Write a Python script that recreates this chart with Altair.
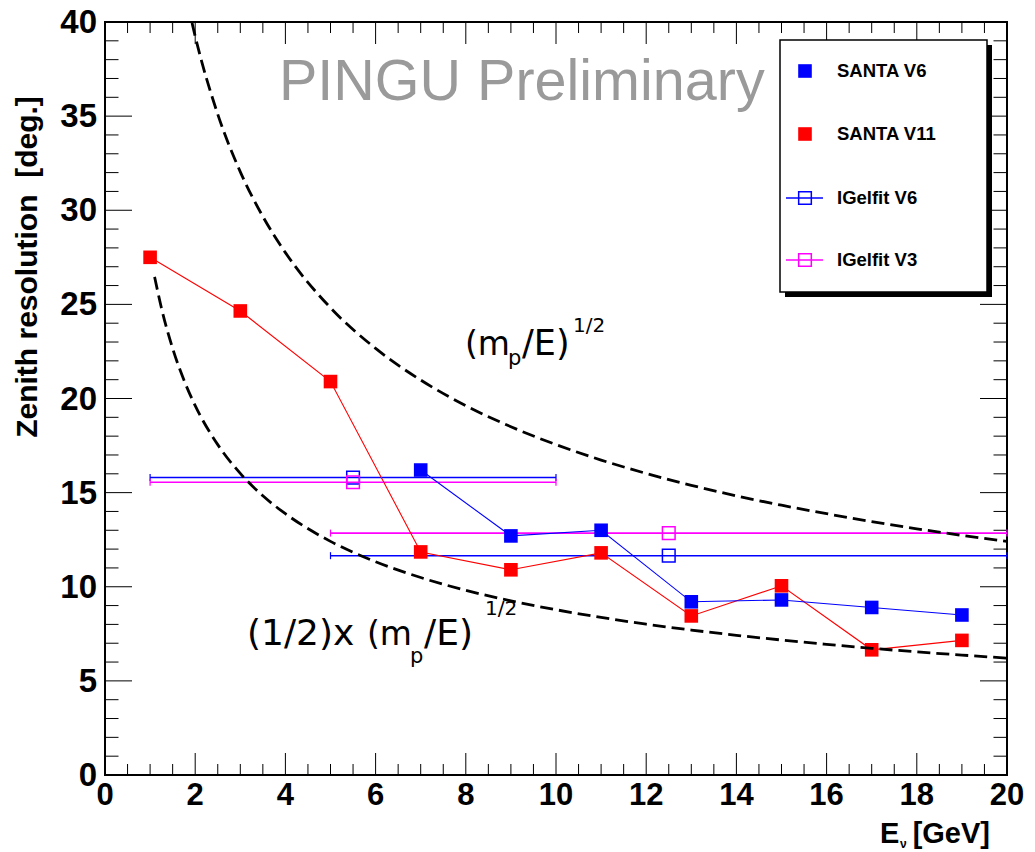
import altair as alt
import pandas as pd

# ---------------- data ----------------
energy_v6 = [7, 9, 11, 13, 15, 17, 19]
santa_v6 = [16.2, 12.7, 13.0, 9.2, 9.3, 8.9, 8.5]

energy_v11 = [1, 3, 5, 7, 9, 11, 13, 15, 17, 19]
santa_v11 = [27.5, 24.65, 20.9, 11.85, 10.9, 11.8, 8.45, 10.05, 6.65, 7.15]

igel_energy = [5.5, 12.5]
igel_lo = [1, 5]
igel_hi = [10, 20]
igelfit_v6 = [15.8, 11.65]
igelfit_v3 = [15.55, 12.85]

upper_e = [1.93, 2, 2.5, 3, 3.5, 4, 5, 6, 7, 8, 9, 10, 11, 12, 13, 14, 15, 16, 17, 18, 19, 20]
upper_res = [39.95, 39.24, 35.1, 32.04, 29.67, 27.75, 24.82, 22.66, 20.98, 19.62, 18.5, 17.55,
             16.73, 16.02, 15.39, 14.83, 14.33, 13.88, 13.46, 13.08, 12.73, 12.41]
lower_e = [1.1, 1.25, 1.5, 1.75, 2, 2.5, 3, 3.5, 4, 5, 6, 7, 8, 9, 10, 11, 12, 13, 14, 15, 16, 17, 18, 19, 20]
lower_res = [26.46, 24.82, 22.66, 20.98, 19.62, 17.55, 16.02, 14.83, 13.88, 12.41, 11.33, 10.49,
             9.81, 9.25, 8.78, 8.37, 8.01, 7.70, 7.42, 7.17, 6.94, 6.73, 6.54, 6.37, 6.21]

x_labels = [0, 2, 4, 6, 8, 10, 12, 14, 16, 18, 20]
y_labels = [0, 5, 10, 15, 20, 25, 30, 35, 40]
x_minor = [v / 2 for v in range(0, 41) if v % 4 != 0]
y_minor = [v for v in range(0, 41) if v % 5 != 0]

legend_labels = ["SANTA V6", "SANTA V11", "IGelfit V6", "IGelfit V3"]

# ---------------- layout ----------------
W, H = 902, 753
TOP = 3  # shift of overlay positions relative to earlier layout
SANS = "Liberation Sans, Arial, sans-serif"
ANNO = "DejaVu Sans, sans-serif"

xs = alt.Scale(domain=[0, 20], nice=False, zero=False)
ys = alt.Scale(domain=[0, 40], nice=False, zero=False)

dummy = pd.DataFrame({"k": [0]})

df_v6 = pd.DataFrame({"E": energy_v6, "R": santa_v6})
df_v11 = pd.DataFrame({"E": energy_v11, "R": santa_v11})
df_ig6 = pd.DataFrame({"E": igel_energy, "lo": igel_lo, "hi": igel_hi, "R": igelfit_v6})
df_ig3 = pd.DataFrame({"E": igel_energy, "lo": igel_lo, "hi": igel_hi, "R": igelfit_v3})
df_up = pd.DataFrame({"E": upper_e, "R": upper_res})
df_lo = pd.DataFrame({"E": lower_e, "R": lower_res})
df_xmaj = pd.DataFrame({"v": x_labels, "t": [str(v) for v in x_labels]})
df_xmin = pd.DataFrame({"v": x_minor})
df_ymaj = pd.DataFrame({"v": y_labels, "t": [str(v) for v in y_labels]})
df_ymin = pd.DataFrame({"v": y_minor})

X = lambda f: alt.X(f, type="quantitative", scale=xs, axis=None)
Y = lambda f: alt.Y(f, type="quantitative", scale=ys, axis=None)

# tick labels
label_layers = [
    alt.Chart(df_xmaj).mark_text(font=SANS, fontSize=31, fontWeight="bold", color="black",
                                 align="center", baseline="top").encode(
        x=X("v"), y=alt.value(H + 6), text="t:N"),
    alt.Chart(df_ymaj).mark_text(font=SANS, fontSize=33, fontWeight="bold", color="black",
                                 align="right", baseline="middle", dy=1).encode(
        y=Y("v"), x=alt.value(-8), text="t:N"),
]

tick_layers = []
for df, ln in [(df_xmaj, 22), (df_xmin, 11)]:
    tick_layers.append(alt.Chart(df).mark_rule(color="black", strokeWidth=1).encode(
        x=X("v"), y=alt.value(H), y2=alt.value(H - ln)))
    tick_layers.append(alt.Chart(df).mark_rule(color="black", strokeWidth=1).encode(
        x=X("v"), y=alt.value(0), y2=alt.value(ln)))
for df, ln in [(df_ymaj, 27), (df_ymin, 13.5)]:
    tick_layers.append(alt.Chart(df).mark_rule(color="black", strokeWidth=1).encode(
        y=Y("v"), x=alt.value(0), x2=alt.value(ln)))
    tick_layers.append(alt.Chart(df).mark_rule(color="black", strokeWidth=1).encode(
        y=Y("v"), x=alt.value(W), x2=alt.value(W - ln)))

def igel(df, color):
    bar = alt.Chart(df).mark_rule(color=color, strokeWidth=1.6).encode(
        x=X("lo"), x2="hi", y=Y("R"))
    cap_lo = alt.Chart(df).mark_tick(color=color, orient="vertical", size=7, thickness=1.2, opacity=1).encode(
        x=X("lo"), y=Y("R"))
    cap_hi = alt.Chart(df).mark_tick(color=color, orient="vertical", size=7, thickness=1.2, opacity=1).encode(
        x=X("hi"), y=Y("R"))
    sq = alt.Chart(df).mark_point(shape="square", filled=False, size=160, color=color,
                                  strokeWidth=1.5, opacity=1).encode(x=X("E"), y=Y("R"))
    return [bar, cap_lo, cap_hi, sq]

def santa(df, color):
    line = alt.Chart(df).mark_line(color=color, strokeWidth=1.1).encode(x=X("E"), y=Y("R"))
    pts = alt.Chart(df).mark_point(shape="square", filled=True, size=185, color=color,
                                   opacity=1).encode(x=X("E"), y=Y("R"))
    return [line, pts]

curves = [
    alt.Chart(df).mark_line(color="black", strokeWidth=2.8, strokeDash=[13, 6],
                            interpolate="monotone").encode(x=X("E"), y=Y("R"))
    for df in (df_up, df_lo)
]

def txt(s, x, y, size, font=ANNO, weight="normal", color="black", align="left",
        baseline="alphabetic", angle=0):
    return alt.Chart(dummy).mark_text(
        text=s, font=font, fontSize=size, fontWeight=weight, color=color,
        align=align, baseline=baseline, angle=angle
    ).encode(x=alt.value(x), y=alt.value(y - TOP))

annotations = [
    # (m_p/E)^{1/2}
    txt("(m", 360, 336, 33),
    txt("p", 403, 346, 21),
    txt("/E)", 417, 336, 35),
    txt("1/2", 468, 313, 20),
    # (1/2)x (m_p/E)^{1/2}
    txt("(1/2)x", 142, 626, 36),
    txt("(m", 262, 626, 33),
    txt("p", 305, 644, 21),
    txt("/E)", 319, 626, 36),
    txt("1/2", 380, 596, 20),
    # PINGU Preliminary
    txt("PINGU Preliminary", 174, 81, 57.5, font=SANS, color="#9a9a9a"),
    # axis titles
    txt("Zenith resolution \u00a0[deg.]", -77, 248, 30, font=SANS, weight="bold",
        align="center", baseline="middle", angle=270),
    txt("E", 775, 824, 29, font=SANS, weight="bold"),
    txt("\u03bd", 795, 829, 12, font=SANS, weight="bold"),
    txt("[GeV]", 885, 824, 29, font=SANS, weight="bold", align="right"),
]

# legend
def v(y):
    return alt.value(y - TOP)

legend = [
    alt.Chart(dummy).mark_rect(color="black").encode(
        x=alt.value(680), x2=alt.value(887), y=v(26), y2=v(278)),
    alt.Chart(dummy).mark_rect(fill="white", stroke="black", strokeWidth=1.5).encode(
        x=alt.value(675), x2=alt.value(882), y=v(21), y2=v(273)),
]
leg_y = [52, 115, 179, 241]
leg_colors = ["blue", "red", "blue", "magenta"]
for i, (lab, col, yy) in enumerate(zip(legend_labels, leg_colors, leg_y)):
    if i < 2:
        legend.append(alt.Chart(dummy).mark_point(shape="square", filled=True, size=185,
                                                  color=col, opacity=1).encode(
            x=alt.value(700), y=v(yy)))
    else:
        legend.append(alt.Chart(dummy).mark_rule(color=col, strokeWidth=1.5).encode(
            x=alt.value(681), x2=alt.value(718), y=v(yy)))
        legend.append(alt.Chart(dummy).mark_point(shape="square", filled=False, size=160,
                                                  color=col, strokeWidth=1.5, opacity=1).encode(
            x=alt.value(700), y=v(yy)))
    legend.append(txt(lab, 732, yy, 18.5, font=SANS, weight="bold", baseline="middle"))

layers = (tick_layers + label_layers + igel(df_ig6, "blue") + igel(df_ig3, "magenta")
          + santa(df_v11, "red") + santa(df_v6, "blue") + curves + annotations + legend)

chart = alt.layer(*layers).properties(
    width=W, height=H,
    autosize=alt.AutoSizeParams(type="none"),
    padding={"left": 97, "top": 14, "right": 20, "bottom": 76},
    background="white",
).configure_view(stroke="black", strokeWidth=2)

chart.save("out.html", embed_options={"renderer": "svg", "actions": False})
